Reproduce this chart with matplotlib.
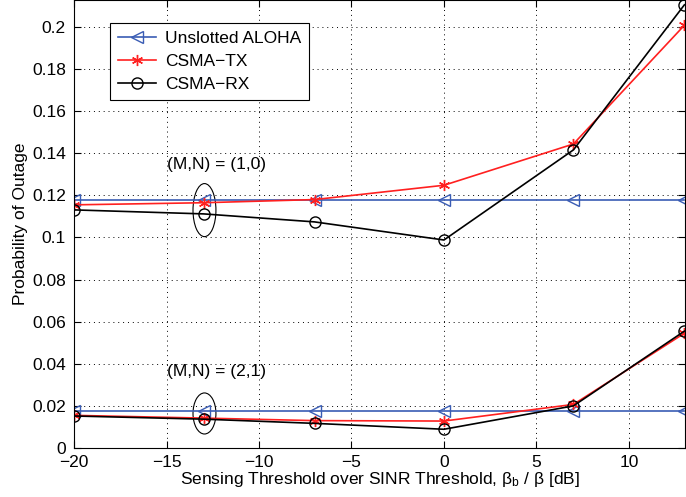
import matplotlib
matplotlib.use("Agg")
import matplotlib.pyplot as plt
from matplotlib.patches import Ellipse

plt.rcParams['font.family'] = ['Liberation Sans', 'DejaVu Sans']

x = [-20, -13, -7, 0, 7, 13]

# (M,N) = (1,0)
aloha_10 = [0.1178, 0.1178, 0.1178, 0.1178, 0.1178, 0.1178]
tx_10 = [0.1155, 0.1165, 0.1180, 0.1248, 0.1444, 0.2008]
rx_10 = [0.1131, 0.1112, 0.1074, 0.0988, 0.1416, 0.2105]

# (M,N) = (2,1)
aloha_21 = [0.0176, 0.0176, 0.0176, 0.0176, 0.0176, 0.0176]
tx_21 = [0.0155, 0.0142, 0.0130, 0.0128, 0.0207, 0.0545]
rx_21 = [0.0152, 0.0137, 0.0117, 0.0089, 0.0200, 0.0555]

blue = '#3a5cb4'
red = '#ff2020'
star = (6, 2, 0)

fig = plt.figure(figsize=(6.86, 4.97), dpi=100)
ax = fig.add_axes([0.108, 0.0986, 0.891, 0.9014])

ax.plot(x, aloha_10, '-', color=blue, marker='<', mfc='none', ms=8, lw=1.2, label='Unslotted ALOHA')
ax.plot(x, tx_10, '-', color=red, marker=star, ms=8, lw=1.2, label='CSMA\u2212TX')
ax.plot(x, rx_10, '-', color='k', marker='o', mfc='none', ms=8, lw=1.2, label='CSMA\u2212RX')

ax.plot(x, aloha_21, '-', color=blue, marker='<', mfc='none', ms=8, lw=1.2)
ax.plot(x, tx_21, '-', color=red, marker=star, ms=8, lw=1.2)
ax.plot(x, rx_21, '-', color='k', marker='o', mfc='none', ms=8, lw=1.2)

ax.add_patch(Ellipse((-12.95, 0.113), 1.24, 0.0252, fill=False, ec='k', lw=0.8))
ax.add_patch(Ellipse((-12.95, 0.0164), 1.24, 0.0195, fill=False, ec='k', lw=0.8))

ax.text(-15, 0.1345, '(M,N) = (1,0)', fontsize=12.5, va='center', ha='left')
ax.text(-15, 0.0362, '(M,N) = (2,1)', fontsize=12.5, va='center', ha='left')

ax.set_xlim(-20, 13.05)
ax.set_ylim(0, 0.2128)
ax.set_xticks([-20, -15, -10, -5, 0, 5, 10])
ax.set_xticklabels(['\u221220', '\u221215', '\u221210', '\u22125', '0', '5', '10'])
ax.set_yticks([0, 0.02, 0.04, 0.06, 0.08, 0.1, 0.12, 0.14, 0.16, 0.18, 0.2])
ax.set_yticklabels(['0', '0.02', '0.04', '0.06', '0.08', '0.1', '0.12', '0.14', '0.16', '0.18', '0.2'])
ax.tick_params(axis='both', direction='in', top=True, right=True, labelsize=12.5, length=5)
ax.tick_params(axis='x', pad=5)
ax.tick_params(axis='y', pad=6)
ax.grid(True, linestyle=(0, (1, 4)), color='k', lw=0.7)

ax.set_xlabel(r'Sensing Threshold over SINR Threshold, $\mathregular{\beta_b}$ / $\mathregular{\beta}$ [dB]',
              fontsize=12.5, labelpad=0)
ax.set_ylabel('Probability of Outage', fontsize=12.5, labelpad=3)

leg = ax.legend(loc='upper left', bbox_to_anchor=(0.059, 0.949), fontsize=12.5, numpoints=1,
                handlelength=2.2, handletextpad=0.5, fancybox=False, framealpha=1, edgecolor='k',
                borderpad=0.45, labelspacing=0.45, borderaxespad=0)
leg.get_frame().set_linewidth(0.8)

fig.savefig('out.png', dpi=100)
